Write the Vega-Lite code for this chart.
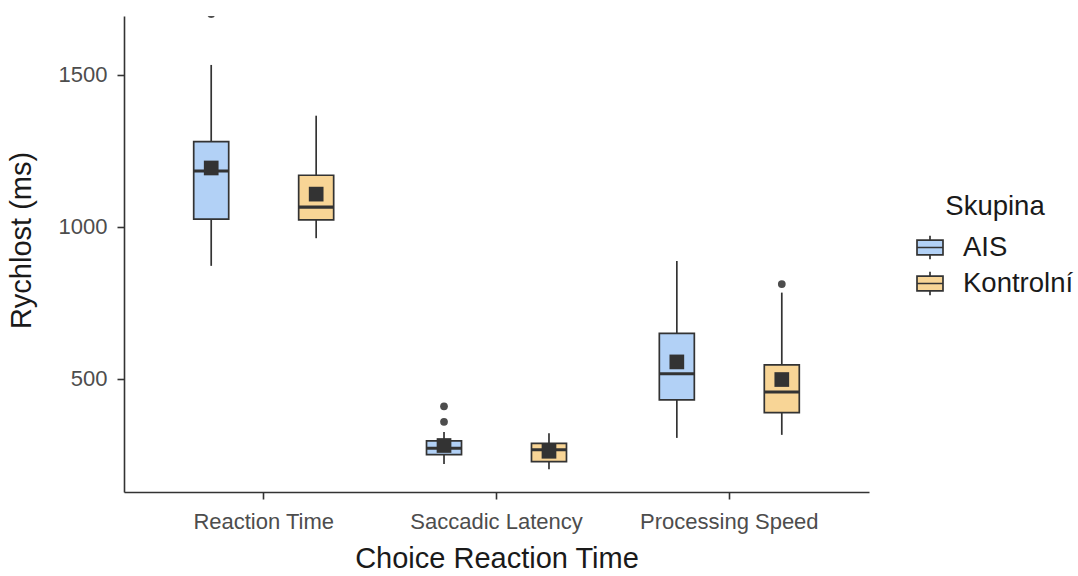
{
  "$schema": "https://vega.github.io/schema/vega-lite/v6.json",
  "width": 745,
  "height": 476,
  "autosize": {"type": "none"},
  "padding": {"left": 124, "top": 16, "right": 209, "bottom": 84},
  "background": "white",
  "datasets": {
    "boxes": [
      {"category": "Reaction Time", "group": "AIS", "lower": 872, "q1": 1026, "median": 1184, "q3": 1281, "upper": 1533, "mean": 1194},
      {"category": "Reaction Time", "group": "Kontrolní", "lower": 963, "q1": 1023, "median": 1065, "q3": 1170, "upper": 1366, "mean": 1108},
      {"category": "Saccadic Latency", "group": "AIS", "lower": 220, "q1": 251, "median": 272, "q3": 296, "upper": 325, "mean": 281},
      {"category": "Saccadic Latency", "group": "Kontrolní", "lower": 203, "q1": 228, "median": 267, "q3": 288, "upper": 321, "mean": 262},
      {"category": "Processing Speed", "group": "AIS", "lower": 306, "q1": 431, "median": 517, "q3": 650, "upper": 888, "mean": 556},
      {"category": "Processing Speed", "group": "Kontrolní", "lower": 316, "q1": 389, "median": 457, "q3": 546, "upper": 784, "mean": 498}
    ],
    "outliers": [
      {"category": "Reaction Time", "group": "AIS", "value": 1700},
      {"category": "Saccadic Latency", "group": "AIS", "value": 410},
      {"category": "Saccadic Latency", "group": "AIS", "value": 359},
      {"category": "Processing Speed", "group": "Kontrolní", "value": 812}
    ]
  },
  "encoding": {
    "x": {
      "field": "category",
      "type": "nominal",
      "title": "Choice Reaction Time",
      "scale": {"domain": ["Reaction Time", "Saccadic Latency", "Processing Speed"], "paddingInner": 0, "paddingOuter": 0.1},
      "axis": {"labelAngle": 0, "bandPosition": 0.5, "labelBaseline": "alphabetic", "labelPadding": 29, "titleBaseline": "alphabetic", "titleY": 75, "titleX": 372.5}
    },
    "xOffset": {
      "field": "group",
      "type": "nominal",
      "scale": {"domain": ["AIS", "Kontrolní"], "paddingInner": 0, "paddingOuter": 0.109}
    }
  },
  "layer": [
    {
      "data": {"name": "boxes"},
      "mark": {"type": "rule", "color": "#333333", "strokeWidth": 1.7},
      "encoding": {
        "y": {
          "field": "lower",
          "type": "quantitative",
          "title": "Rychlost (ms)",
          "scale": {"domain": [128, 1694], "nice": false, "zero": false},
          "axis": {"values": [500, 1000, 1500], "format": "d", "labelPadding": 10, "labelBaseline": "middle", "titleX": -88, "titleY": 224, "titleBaseline": "bottom"}
        },
        "y2": {"field": "upper"}
      }
    },
    {
      "data": {"name": "boxes"},
      "mark": {"type": "bar", "width": 35, "stroke": "#333333", "strokeWidth": 1.7, "opacity": 1},
      "encoding": {
        "y": {"field": "q1", "type": "quantitative"},
        "y2": {"field": "q3"},
        "fill": {
          "field": "group",
          "type": "nominal",
          "scale": {"domain": ["AIS", "Kontrolní"], "range": ["#b2d1f6", "#f8d596"]},
          "legend": {"title": "Skupina"}
        }
      }
    },
    {
      "data": {"name": "boxes"},
      "mark": {"type": "tick", "color": "#333333", "size": 35, "thickness": 3.2, "opacity": 1},
      "encoding": {"y": {"field": "median", "type": "quantitative"}}
    },
    {
      "data": {"name": "outliers"},
      "mark": {"type": "circle", "color": "#4d4d4d", "size": 60, "opacity": 1, "clip": true},
      "encoding": {"y": {"field": "value", "type": "quantitative"}}
    },
    {
      "data": {"name": "boxes"},
      "mark": {"type": "point", "shape": "square", "filled": true, "color": "#333333", "size": 216, "opacity": 1},
      "encoding": {"y": {"field": "mean", "type": "quantitative"}}
    }
  ],
  "config": {
    "view": {"stroke": null},
    "font": "Liberation Sans",
    "axis": {
      "labelFont": "Liberation Sans",
      "titleFont": "Liberation Sans",
      "labelFontSize": 22,
      "titleFontSize": 29,
      "labelColor": "#4d4d4d",
      "titleColor": "#1a1a1a",
      "titleFontWeight": "normal",
      "domainColor": "#333333",
      "tickColor": "#333333",
      "domainWidth": 1.6,
      "tickWidth": 1.6,
      "tickSize": 7,
      "grid": false
    },
    "legend": {
      "orient": "none",
      "legendX": 792,
      "legendY": 177,
      "padding": 0,
      "titleFont": "Liberation Sans",
      "labelFont": "Liberation Sans",
      "titleFontSize": 27.5,
      "labelFontSize": 27.5,
      "titleFontWeight": "normal",
      "titleColor": "#1a1a1a",
      "labelColor": "#1a1a1a",
      "titleAnchor": "middle",
      "titlePadding": 13,
      "labelOffset": 19,
      "rowPadding": 4,
      "symbolType": "M-1,-0.56H1V0.56H-1Z M-1,0H1 M0,-0.56V-0.9 M0,0.56V0.9",
      "symbolSize": 676,
      "symbolStrokeColor": "#333333",
      "symbolStrokeWidth": 1.7,
      "symbolOpacity": 1
    }
  }
}
